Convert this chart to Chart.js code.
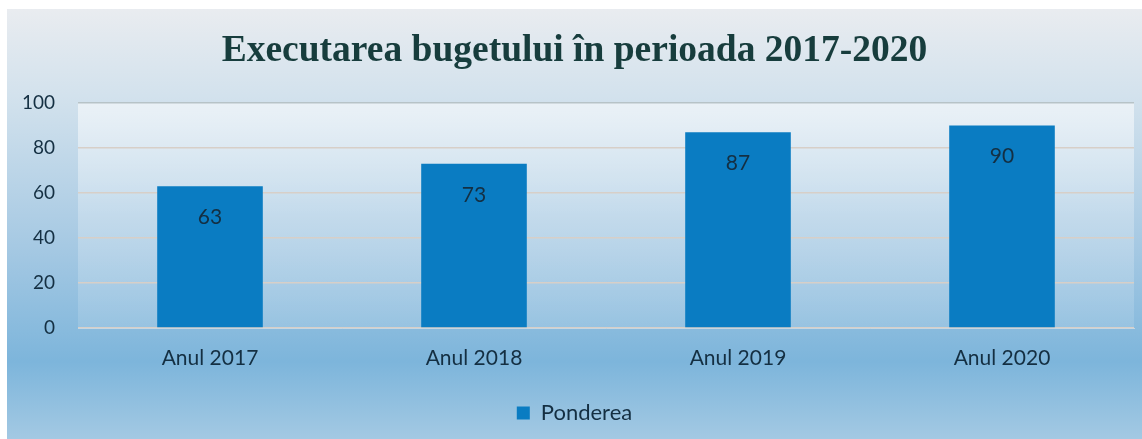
<!DOCTYPE html>
<html>
<head>
<meta charset="utf-8">
<script src="https://cdn.jsdelivr.net/npm/chart.js@4"></script>
<style>
  html, body { margin: 0; padding: 0; background: #ffffff; }
  #wrap { position: absolute; left: 7px; top: 9px; width: 1135px; height: 430px; }
</style>
</head>
<body>
<div id="wrap"><canvas id="budgetChart"></canvas></div>
<script>
// date din grafic
const years = ["Anul 2017", "Anul 2018", "Anul 2019", "Anul 2020"];
const ponderea = [63, 73, 87, 90];
const yTicks = [0, 20, 40, 60, 80, 100];

const barColor = "#0a7cc2";
const textColor = "#142f42";

// fundal panou + zona graficului
const backgroundPlugin = {
  id: "panelBg",
  beforeDraw(chart) {
    const { ctx, width, height, chartArea } = chart;
    ctx.save();
    const g = ctx.createLinearGradient(0, 0, 0, height);
    g.addColorStop(0, "#e9ecf0");
    g.addColorStop(0.2, "#d3e2ed");
    g.addColorStop(0.55, "#a6c9e3");
    g.addColorStop(0.82, "#7db5db");
    g.addColorStop(1, "#a3c9e3");
    ctx.fillStyle = g;
    ctx.fillRect(0, 0, width, height);

    const p = ctx.createLinearGradient(0, chartArea.top, 0, chartArea.bottom);
    p.addColorStop(0, "rgba(255,255,255,0.55)");
    p.addColorStop(0.5, "rgba(255,255,255,0.25)");
    p.addColorStop(1, "rgba(255,255,255,0.12)");
    ctx.fillStyle = p;
    ctx.fillRect(chartArea.left, chartArea.top, chartArea.right - chartArea.left, chartArea.bottom - chartArea.top);
    ctx.restore();
  }
};

// etichete valori in interiorul barelor
const valueLabels = {
  id: "valueLabels",
  afterDatasetsDraw(chart) {
    const { ctx } = chart;
    const meta = chart.getDatasetMeta(0);
    ctx.save();
    ctx.font = "21px Lato";
    ctx.fillStyle = textColor;
    ctx.textAlign = "center";
    ctx.textBaseline = "middle";
    meta.data.forEach((bar, i) => {
      ctx.fillText(String(ponderea[i]), bar.x, bar.y + 31);
    });
    ctx.restore();
  }
};

const chart = new Chart(document.getElementById("budgetChart"), {
  type: "bar",
  data: {
    labels: years,
    datasets: [
      {
        label: "Ponderea",
        data: ponderea,
        backgroundColor: barColor,
        borderWidth: 0,
        categoryPercentage: 0.8,
        barPercentage: 0.5
      }
    ]
  },
  options: {
    responsive: true,
    maintainAspectRatio: false,
    animation: false,
    layout: { padding: { left: 8, right: 8, top: 0, bottom: 5 } },
    plugins: {
      title: {
        display: true,
        text: "Executarea bugetului în perioada 2017-2020",
        color: "#173d3d",
        font: { family: "Liberation Serif", size: 37.5, weight: "bold" },
        padding: { top: 20, bottom: 29 }
      },
      legend: {
        position: "bottom",
        labels: {
          color: textColor,
          font: { family: "Lato", size: 22 },
          boxWidth: 13,
          boxHeight: 13,
          padding: 10
        }
      },
      tooltip: { enabled: false }
    },
    scales: {
      x: {
        grid: { display: false },
        border: { display: true, color: "#c8d6e0" },
        ticks: { color: textColor, font: { family: "Lato", size: 21 }, padding: 10 },
        afterFit: (axis) => { axis.height = 64; }
      },
      y: {
        min: 0,
        max: 100,
        afterBuildTicks: (axis) => { axis.ticks = yTicks.map(v => ({ value: v })); },
        afterFit: (axis) => { axis.width = 63; },
        grid: {
          color: (c) => c.tick && c.tick.value === 100 ? "#b7c3c7" : "#d7cfc8",
          lineWidth: 1.5,
          drawTicks: false
        },
        border: { display: false },
        ticks: { color: textColor, font: { family: "Lato", size: 19 }, padding: 23 }
      }
    }
  },
  plugins: [backgroundPlugin, valueLabels]
});
</script>
</body>
</html>
